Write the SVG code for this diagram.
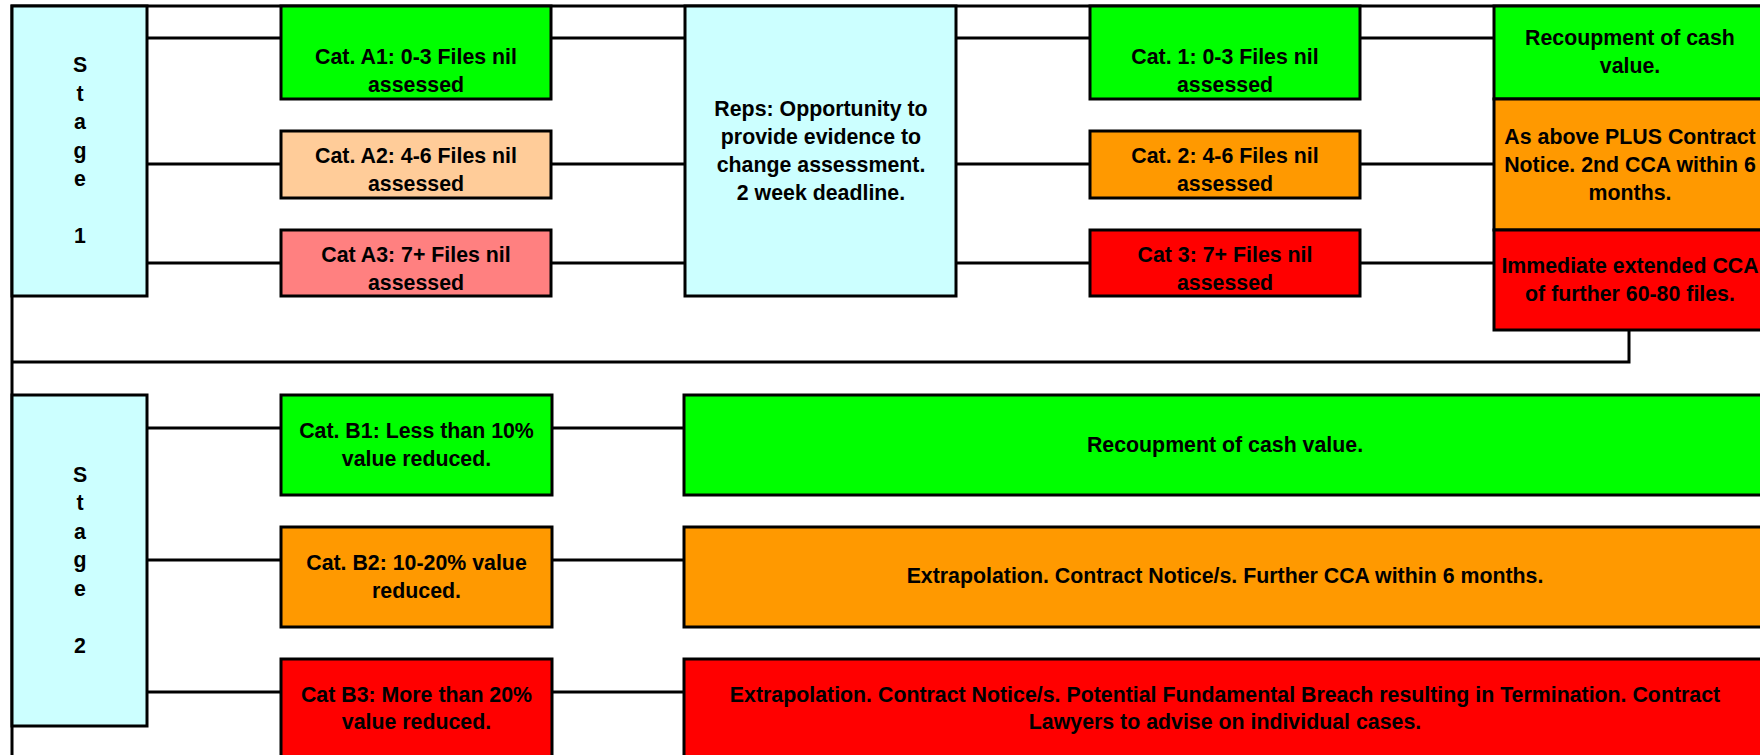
<svg xmlns="http://www.w3.org/2000/svg" width="1760" height="755" viewBox="0 0 1760 755">
<style>
.b{stroke:#000;stroke-width:3}
.t{font-family:"Liberation Sans",Arial,sans-serif;font-weight:bold;font-size:21.33px;fill:#000;text-anchor:middle}
.c{fill:none;stroke:#000;stroke-width:3}
.cy{fill:#CCFFFF}.gr{fill:#00FF00}.pe{fill:#FFCC99}.sa{fill:#FF8080}.or{fill:#FF9900}.rd{fill:#FF0000}
</style>
<rect width="1760" height="755" fill="#fff"/>
<g id="connectors" class="c">
<path d="M12,755V6H1760"/>
<path d="M1629,330V362H12"/>
<path d="M147,38H281M147,164H281M147,263H281"/>
<path d="M551,38H685M551,164H685M551,263H685"/>
<path d="M956,38H1090M956,164H1090M956,263H1090"/>
<path d="M1360,38H1494M1360,164H1494M1360,263H1494"/>
<path d="M147,428H281M147,560H281M147,692H281"/>
<path d="M552,428H684M552,560H684M552,692H684"/>
</g>
<g id="stage1">
<rect class="b cy" x="12" y="6" width="135" height="290"/>
<text class="t"><tspan x="80" y="72">S</tspan><tspan x="80" y="100.5">t</tspan><tspan x="80" y="129">a</tspan><tspan x="80" y="157.5">g</tspan><tspan x="80" y="186">e</tspan><tspan x="80" y="243">1</tspan></text>
</g>
<g id="catA1">
<rect class="b gr" x="281" y="6" width="270" height="93"/>
<text class="t"><tspan x="416" y="64">Cat. A1: 0-3 Files nil</tspan><tspan x="416" y="91.7">assessed</tspan></text>
</g>
<g id="catA2">
<rect class="b pe" x="281" y="131" width="270" height="67"/>
<text class="t"><tspan x="416" y="163">Cat. A2: 4-6 Files nil</tspan><tspan x="416" y="190.5">assessed</tspan></text>
</g>
<g id="catA3">
<rect class="b sa" x="281" y="230" width="270" height="66"/>
<text class="t"><tspan x="416" y="262">Cat A3: 7+ Files nil</tspan><tspan x="416" y="290">assessed</tspan></text>
</g>
<g id="reps">
<rect class="b cy" x="685" y="6" width="271" height="290"/>
<text class="t"><tspan x="821" y="115.5">Reps: Opportunity to</tspan><tspan x="821" y="143.8">provide evidence to</tspan><tspan x="821" y="172">change assessment.</tspan><tspan x="821" y="200.3">2 week deadline.</tspan></text>
</g>
<g id="cat1">
<rect class="b gr" x="1090" y="6" width="270" height="93"/>
<text class="t"><tspan x="1225" y="64">Cat. 1: 0-3 Files nil</tspan><tspan x="1225" y="91.7">assessed</tspan></text>
</g>
<g id="cat2">
<rect class="b or" x="1090" y="131" width="270" height="67"/>
<text class="t"><tspan x="1225" y="163">Cat. 2: 4-6 Files nil</tspan><tspan x="1225" y="190.5">assessed</tspan></text>
</g>
<g id="cat3">
<rect class="b rd" x="1090" y="230" width="270" height="66"/>
<text class="t"><tspan x="1225" y="262">Cat 3: 7+ Files nil</tspan><tspan x="1225" y="290">assessed</tspan></text>
</g>
<g id="outcome1">
<rect class="b gr" x="1494" y="6" width="272" height="93"/>
<text class="t"><tspan x="1630" y="44.5">Recoupment of cash</tspan><tspan x="1630" y="72.5">value.</tspan></text>
</g>
<g id="outcome2">
<rect class="b or" x="1494" y="99" width="272" height="131"/>
<text class="t"><tspan x="1630" y="143.5">As above PLUS Contract</tspan><tspan x="1630" y="171.5">Notice. 2nd CCA within 6</tspan><tspan x="1630" y="199.5">months.</tspan></text>
</g>
<g id="outcome3">
<rect class="b rd" x="1494" y="230" width="272" height="100"/>
<text class="t"><tspan x="1630" y="272.5">Immediate extended CCA</tspan><tspan x="1630" y="300.5">of further 60-80 files.</tspan></text>
</g>
<g id="stage2">
<rect class="b cy" x="12" y="395" width="135" height="331"/>
<text class="t"><tspan x="80" y="481.5">S</tspan><tspan x="80" y="510">t</tspan><tspan x="80" y="538.5">a</tspan><tspan x="80" y="567">g</tspan><tspan x="80" y="595.5">e</tspan><tspan x="80" y="652.5">2</tspan></text>
</g>
<g id="catB1">
<rect class="b gr" x="281" y="395" width="271" height="100"/>
<text class="t"><tspan x="416.5" y="438.3">Cat. B1: Less than 10%</tspan><tspan x="416.5" y="466">value reduced.</tspan></text>
</g>
<g id="catB2">
<rect class="b or" x="281" y="527" width="271" height="100"/>
<text class="t"><tspan x="416.5" y="570">Cat. B2: 10-20% value</tspan><tspan x="416.5" y="597.5">reduced.</tspan></text>
</g>
<g id="catB3">
<rect class="b rd" x="281" y="659" width="271" height="100"/>
<text class="t"><tspan x="416.5" y="701.5">Cat B3: More than 20%</tspan><tspan x="416.5" y="729">value reduced.</tspan></text>
</g>
<g id="outcomeB1">
<rect class="b gr" x="684" y="395" width="1082" height="100"/>
<text class="t" x="1225" y="451.5">Recoupment of cash value.</text>
</g>
<g id="outcomeB2">
<rect class="b or" x="684" y="527" width="1082" height="100"/>
<text class="t" x="1225" y="583">Extrapolation. Contract Notice/s. Further CCA within 6 months.</text>
</g>
<g id="outcomeB3">
<rect class="b rd" x="684" y="659" width="1082" height="100"/>
<text class="t"><tspan x="1225" y="701.5">Extrapolation. Contract Notice/s. Potential Fundamental Breach resulting in Termination. Contract</tspan><tspan x="1225" y="729">Lawyers to advise on individual cases.</tspan></text>
</g>
</svg>
